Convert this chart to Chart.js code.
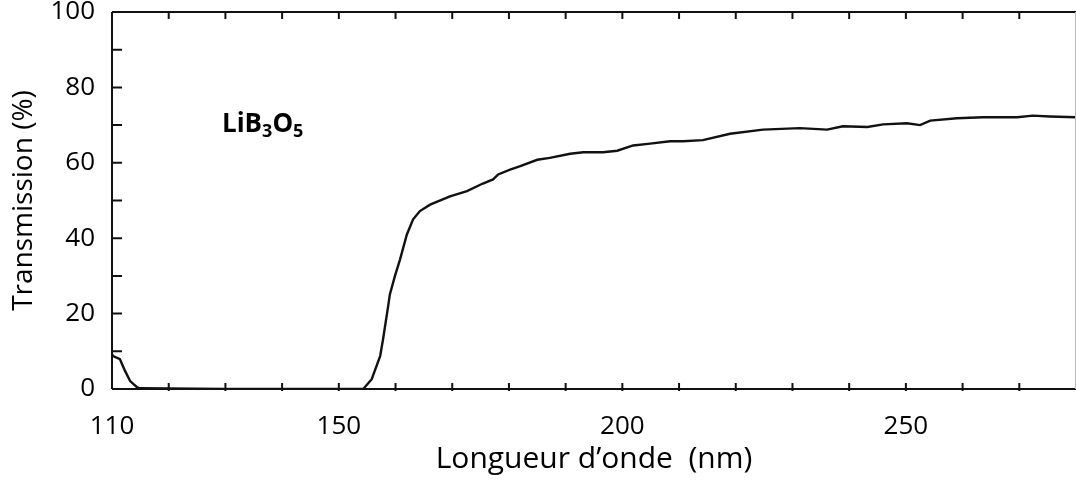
<!DOCTYPE html>
<html>
<head>
<meta charset="utf-8">
<script src="https://cdn.jsdelivr.net/npm/chart.js@4"></script>
<style>
  body { margin: 0; background: #fff; }
  #wrap { width: 1076px; height: 482px; }
</style>
</head>
<body>
<div id="wrap"><canvas id="chart" width="1076" height="482"></canvas></div>
<script>
// wavelength (nm) and transmission (%)
const wavelengths = [110, 110.2, 111.4, 112.3, 113.2, 114.4, 114.9, 130,
  154.3, 155.8, 157.3, 157.8, 158.7, 159.0, 159.9, 160.8, 162.0, 163.1, 164.3, 166.1,
  169.6, 172.6, 175.4, 177.2, 178.1, 180.2, 182.0, 185.0, 187.2, 190.8, 193.1, 196.6,
  199.1, 201.9, 204.9, 208.4, 210.7, 214.2, 219.0, 224.8, 231.3, 236.1, 238.9, 243.2,
  246.0, 250.2, 252.5, 254.3, 259.0, 263.6, 269.6, 272.4, 275.4, 280];
const transmission = [9.3, 8.7, 7.9, 4.8, 2.1, 0.5, 0.2, 0,
  0, 2.6, 8.8, 13.2, 22, 25.1, 30, 34.4, 41, 45, 47.2, 48.9,
  51.1, 52.5, 54.5, 55.6, 56.9, 58.2, 59.1, 60.8, 61.3, 62.4, 62.8, 62.8,
  63.2, 64.6, 65.1, 65.7, 65.7, 66, 67.7, 68.8, 69.2, 68.8, 69.7, 69.5,
  70.2, 70.5, 70, 71.2, 71.8, 72.1, 72.1, 72.5, 72.3, 72.1];

const xTickLabels = [110, 150, 200, 250];
const yTickLabels = [0, 20, 40, 60, 80, 100];

const points = wavelengths.map((w, i) => ({ x: w, y: transmission[i] }));

// frame + inward tick marks, like the original plot
const framePlugin = {
  id: 'frame',
  afterDraw(chart) {
    const { ctx, chartArea: a, scales } = chart;
    ctx.save();
    ctx.strokeStyle = '#111';
    ctx.lineWidth = 2;
    ctx.beginPath();
    ctx.moveTo(a.left, a.top); ctx.lineTo(a.right, a.top);
    ctx.moveTo(a.left, a.top); ctx.lineTo(a.left, a.bottom);
    ctx.moveTo(a.left, a.bottom); ctx.lineTo(a.right, a.bottom);
    scales.x.ticks.forEach(t => {
      const px = scales.x.getPixelForValue(t.value);
      if (px <= a.left + 1 || px >= a.right - 1) return;
      ctx.moveTo(px, a.bottom + 2); ctx.lineTo(px, a.bottom - 6);
      ctx.moveTo(px, a.top); ctx.lineTo(px, a.top + 7);
    });
    scales.y.ticks.forEach(t => {
      const py = scales.y.getPixelForValue(t.value);
      if (py <= a.top + 1 || py >= a.bottom - 1) return;
      ctx.moveTo(a.left, py); ctx.lineTo(a.left + 10, py);
    });
    ctx.stroke();
    ctx.strokeStyle = '#bbb';
    ctx.lineWidth = 1;
    ctx.beginPath();
    ctx.moveTo(a.right - 0.5, a.top); ctx.lineTo(a.right - 0.5, a.bottom);
    ctx.stroke();

    // compound label LiB3O5
    let x = a.left + 110;
    const y = a.top + 120;
    ctx.fillStyle = '#000';
    ctx.textBaseline = 'alphabetic';
    const parts = [['LiB', false], ['3', true], ['O', false], ['5', true]];
    parts.forEach(([txt, sub]) => {
      ctx.font = sub ? 'bold 18px "Open Sans"' : 'bold 26px "Open Sans"';
      ctx.fillText(txt, x, sub ? y + 5 : y);
      x += ctx.measureText(txt).width;
    });
    ctx.restore();
  }
};

new Chart(document.getElementById('chart'), {
  type: 'line',
  data: {
    datasets: [{
      data: points,
      borderColor: '#111',
      borderWidth: 2.4,
      pointRadius: 0,
      tension: 0
    }]
  },
  options: {
    responsive: false,
    animation: false,
    layout: { padding: { top: 12, right: 0, left: 0, bottom: 0 } },
    plugins: { legend: { display: false }, tooltip: { enabled: false } },
    scales: {
      x: {
        type: 'linear',
        min: 110,
        max: 280,
        grid: { display: false, drawTicks: false },
        border: { display: false },
        ticks: {
          stepSize: 10,
          autoSkip: false,
          maxRotation: 0,
          padding: 22,
          color: '#000',
          font: { family: '"Open Sans"', size: 26 },
          callback: v => xTickLabels.includes(v) ? String(v) : ''
        },
        title: {
          display: true,
          text: 'Longueur d\u2019onde  (nm)',
          color: '#000',
          font: { family: '"Open Sans"', size: 30 },
          padding: { top: 0, bottom: 5 }
        },
        afterFit(scale) {
          scale.height = 93;
          scale.paddingLeft = 0;
          scale.paddingRight = 0;
        }
      },
      y: {
        min: 0,
        max: 100,
        grid: { display: false, drawTicks: false },
        border: { display: false },
        ticks: {
          stepSize: 10,
          autoSkip: false,
          padding: 17,
          color: '#000',
          font: { family: '"Open Sans"', size: 26 },
          callback: v => yTickLabels.includes(v) ? String(v) : ''
        },
        title: {
          display: true,
          text: 'Transmission (%)',
          color: '#000',
          font: { family: '"Open Sans"', size: 28 },
          padding: { top: 7, bottom: 0 }
        },
        afterFit(scale) {
          scale.width = 112;
          scale.paddingTop = 0;
          scale.paddingBottom = 0;
        }
      }
    }
  },
  plugins: [framePlugin]
});
</script>
</body>
</html>
